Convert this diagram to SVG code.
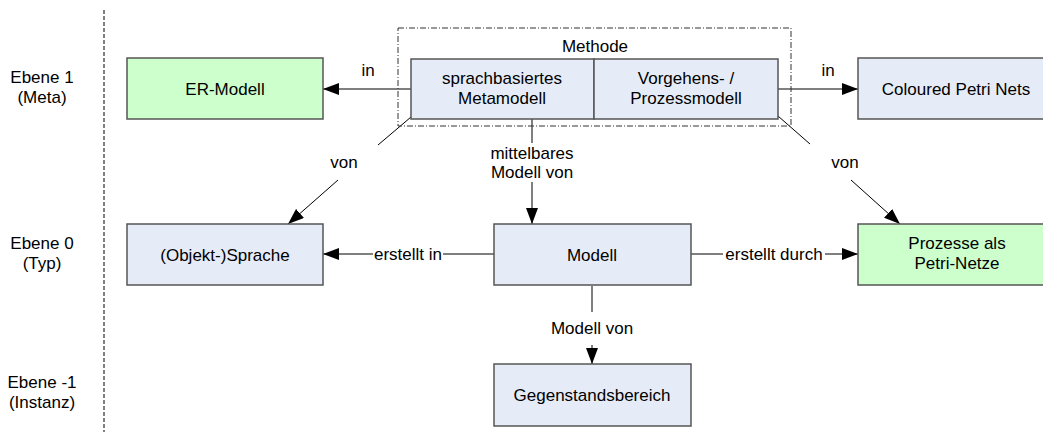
<svg xmlns="http://www.w3.org/2000/svg" width="1043" height="434" viewBox="0 0 1043 434">
<defs>
<style>
text{font-family:"Liberation Sans",Arial,sans-serif;font-size:17px;fill:#000;text-anchor:middle}
.blue{fill:#e6ecf7;stroke:#555;stroke-width:1.5}
.green{fill:#ccffcc;stroke:#555;stroke-width:1.5}
.ln{stroke:#000;stroke-width:1;fill:none}
</style>
<marker id="ah" viewBox="0 0 16 12" refX="16" refY="6" markerWidth="16" markerHeight="12" markerUnits="userSpaceOnUse" orient="auto">
<path d="M0,0 L16,6 L0,12 z" fill="#000"/>
</marker>
</defs>
<rect width="1043" height="434" fill="#fff"/>
<g id="levels">
<line x1="104" y1="10" x2="104" y2="432" stroke="#808080" stroke-width="2" stroke-dasharray="4,2"/>
<text x="42" y="83">Ebene 1</text>
<text x="42" y="103">(Meta)</text>
<text x="42" y="249">Ebene 0</text>
<text x="42" y="269">(Typ)</text>
<text x="42" y="388">Ebene -1</text>
<text x="42" y="408">(Instanz)</text>
</g>
<g id="connectors">
<line class="ln" x1="411" y1="89" x2="323" y2="89" marker-end="url(#ah)"/>
<text x="368" y="76">in</text>
<line class="ln" x1="778" y1="89" x2="858" y2="89" marker-end="url(#ah)"/>
<text x="828" y="76">in</text>
<line class="ln" x1="411" y1="117" x2="378" y2="145"/>
<line class="ln" x1="338" y1="180" x2="288" y2="224" marker-end="url(#ah)"/>
<text x="344" y="168">von</text>
<line class="ln" x1="778" y1="116" x2="810" y2="144"/>
<line class="ln" x1="851" y1="180" x2="900" y2="224" marker-end="url(#ah)"/>
<text x="845" y="168">von</text>
<line class="ln" x1="532" y1="119" x2="532" y2="143"/>
<line class="ln" x1="532" y1="182" x2="532" y2="224" marker-end="url(#ah)"/>
<text x="532" y="159">mittelbares</text>
<text x="532" y="178">Modell von</text>
<line class="ln" x1="494" y1="254" x2="443" y2="254"/>
<line class="ln" x1="373" y1="254" x2="323" y2="254" marker-end="url(#ah)"/>
<text x="408" y="260">erstellt in</text>
<line class="ln" x1="691" y1="254" x2="723" y2="254"/>
<line class="ln" x1="825" y1="254" x2="858" y2="254" marker-end="url(#ah)"/>
<text x="774" y="260">erstellt durch</text>
<line class="ln" x1="592" y1="286" x2="592" y2="312"/>
<line class="ln" x1="592" y1="345" x2="592" y2="364" marker-end="url(#ah)"/>
<text x="592" y="334">Modell von</text>
</g>
<g id="methode">
<rect x="398" y="28" width="393" height="98" fill="none" stroke="#333" stroke-width="1" stroke-dasharray="6,2,1,2"/>
<text x="595" y="52">Methode</text>
</g>
<g id="metamodell">
<rect class="blue" x="411" y="59" width="183" height="60"/>
<text x="502" y="84">sprachbasiertes</text>
<text x="502" y="104">Metamodell</text>
</g>
<g id="prozessmodell">
<rect class="blue" x="594" y="59" width="184" height="60"/>
<text x="686" y="84">Vorgehens- /</text>
<text x="686" y="104">Prozessmodell</text>
</g>
<g id="er-modell">
<rect class="green" x="127" y="58" width="196" height="61"/>
<text x="225" y="95">ER-Modell</text>
</g>
<g id="cpn">
<rect class="blue" x="858" y="58" width="197" height="61"/>
<text x="956" y="95">Coloured Petri Nets</text>
</g>
<g id="sprache">
<rect class="blue" x="127" y="224" width="196" height="61"/>
<text x="225" y="261">(Objekt-)Sprache</text>
</g>
<g id="modell">
<rect class="blue" x="494" y="224" width="197" height="61"/>
<text x="592" y="261">Modell</text>
</g>
<g id="petrinetze">
<rect class="green" x="858" y="224" width="197" height="61"/>
<text x="957" y="249">Prozesse als</text>
<text x="957" y="269">Petri-Netze</text>
</g>
<g id="gegenstand">
<rect class="blue" x="494" y="364" width="197" height="62"/>
<text x="592" y="401">Gegenstandsbereich</text>
</g>
</svg>
